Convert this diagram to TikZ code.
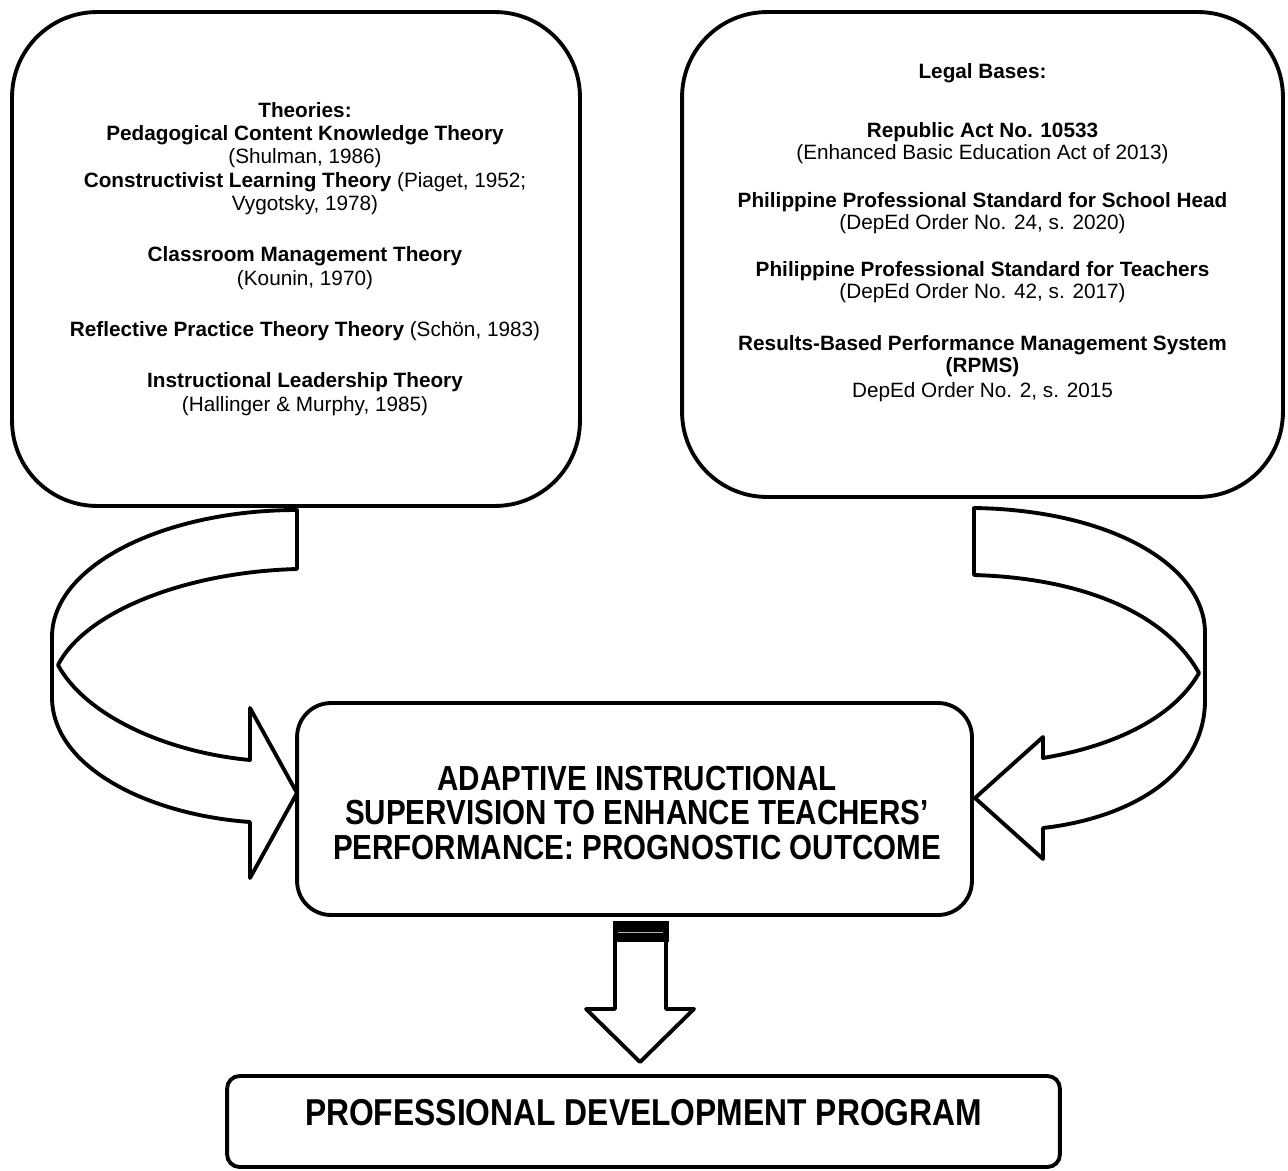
\documentclass[tikz,border=0pt]{standalone}
\usepackage{fontspec}
\setmainfont{Liberation Sans}
\newfontfamily\narrowfont[FakeStretch=0.85]{Liberation Sans}
\usetikzlibrary{arrows,shapes}
\usetikzlibrary{calc}
\tikzstyle{bigbox}=[draw,rectangle,rounded corners=1.7cm,line width=2.2pt,inner sep=0pt]
\tikzstyle{midbox}=[draw,rectangle,rounded corners=0.68cm,line width=2.2pt,inner sep=0pt]
\tikzstyle{lowbox}=[draw,rectangle,rounded corners=0.25cm,line width=2.2pt,inner sep=0pt]
\tikzstyle{smalltext}=[align=center,inner sep=0pt,font=\fontsize{11.8}{13.26}\selectfont]
\tikzstyle{bigtext}=[align=center,inner sep=0pt,font=\narrowfont\bfseries\fontsize{19.8}{19.4}\selectfont]
\tikzstyle{bendarrow}=[draw,line width=2.2pt,line join=round]

\begin{document}
\begin{tikzpicture}[x=0.02cm,y=-0.02cm]
\useasboundingbox (0,0) rectangle (1288,1170);

    % the four boxes
    \node[bigbox,minimum width=11.36cm,minimum height=9.88cm] (theories) at (296,259) {};
    \node[bigbox,minimum width=12.02cm,minimum height=9.7cm] (legal) at (982.5,254.5) {};
    \node[midbox,minimum width=13.5cm,minimum height=4.24cm] (mid) at (634.5,809) {};
    \node[lowbox,minimum width=16.66cm,minimum height=1.82cm] (pdp) at (643.5,1121.5) {};

    % texts
    \node[smalltext,anchor=north] (theorytext) at (305,102)
        {\textbf{Theories:}\\
         \textbf{Pedagogical Content Knowledge Theory}\\
         (Shulman, 1986)\\
         \textbf{Constructivist Learning Theory} (Piaget, 1952;\\
         Vygotsky, 1978)\\[0.56cm]
         \textbf{Classroom Management Theory}\\
         (Kounin, 1970)\\[0.56cm]
         \textbf{Reflective Practice Theory Theory} (Schön, 1983)\\[0.56cm]
         \textbf{Instructional Leadership Theory}\\
         (Hallinger \& Murphy, 1985)};

    \node[smalltext,font=\fontsize{11.8}{12.8}\selectfont,anchor=north] (legaltext) at (982.5,63)
        {\textbf{Legal Bases:}\\[0.73cm]
         \textbf{Republic Act No. 10533}\\
         (Enhanced Basic Education Act of 2013)\\[0.5cm]
         \textbf{Philippine Professional Standard for School Head}\\
         (DepEd Order No. 24, s. 2020)\\[0.48cm]
         \textbf{Philippine Professional Standard for Teachers}\\
         (DepEd Order No. 42, s. 2017)\\[0.58cm]
         \textbf{Results-Based Performance Management System}\\
         \textbf{(RPMS)}\\[0.04cm]
         DepEd Order No. 2, s. 2015};

    \node[bigtext] (midtext) at (637,813)
        {ADAPTIVE INSTRUCTIONAL\\
         SUPERVISION TO ENHANCE TEACHERS’\\
         PERFORMANCE: PROGNOSTIC OUTCOME};

    \node[bigtext,font=\narrowfont\bfseries\fontsize{21.3}{21}\selectfont] (pdptext) at (643.5,1113)
        {PROFESSIONAL DEVELOPMENT PROGRAM};

    % curved arrow from the theories
    \path[bendarrow] (297,510) .. controls (165,510) and (52,565) .. (52,637) -- (52,697)
        .. controls (52,768) and (150,815) .. (250,822) -- (250,878) -- (297,793) -- (250,708) -- (250,760)
        .. controls (165,752) and (85,715) .. (58,665)
        .. controls (85,612) and (185,572) .. (297,569) -- cycle;

    % curved arrow from the legal bases
    \path[bendarrow] (974,508) .. controls (1110,510) and (1205,565) .. (1205,633) -- (1205,700)
        .. controls (1205,775) and (1130,818) .. (1043,828) -- (1043,859) -- (975,798) -- (1043,737) -- (1043,758)
        .. controls (1120,745) and (1175,715) .. (1199,673)
        .. controls (1165,612) and (1080,578) .. (974,575) -- cycle;

    % down arrow
    \fill (612.7,920.7) rectangle (669,941.7);
    \draw[gray!60,line width=0.5pt] (618,932) -- (663,932);
    \path[bendarrow] (615,941) -- (615,1009) -- (586,1009) -- (640,1062) -- (694,1009) -- (666,1009) -- (666,941);

\end{tikzpicture}
\end{document}
